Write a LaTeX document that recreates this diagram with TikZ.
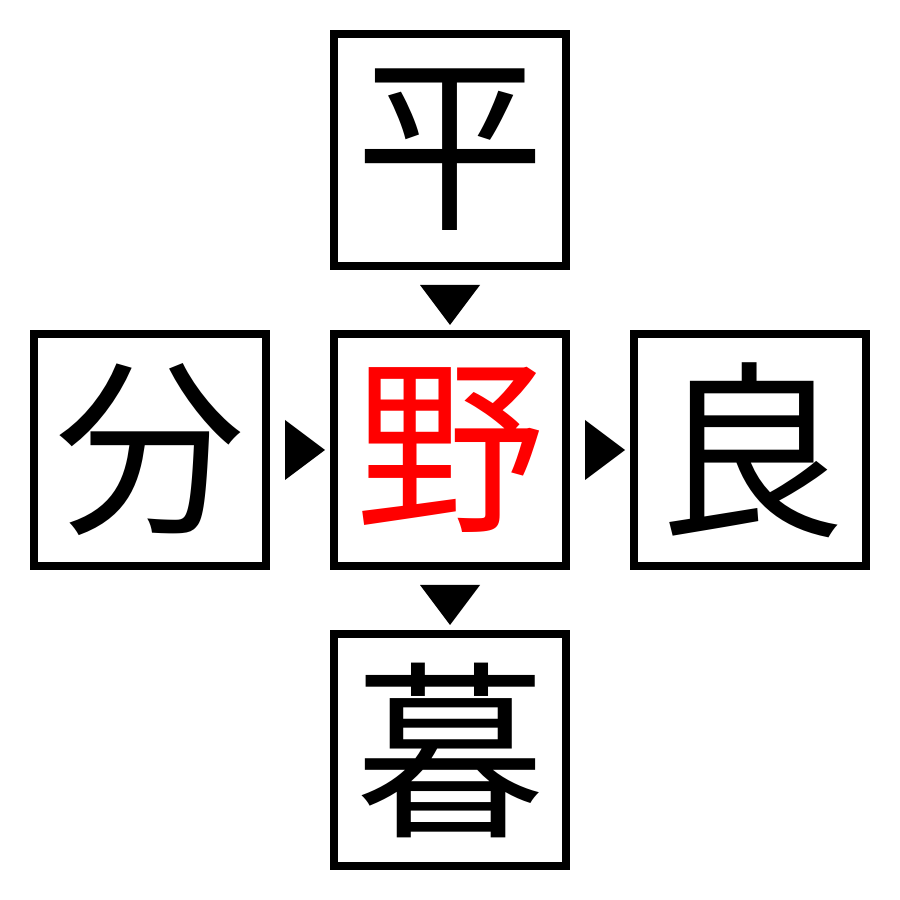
\documentclass[tikz,border=0pt]{standalone}
\usepackage{fontspec}
\newfontfamily\cjk{Noto Sans CJK JP}
\usetikzlibrary{shapes.geometric,positioning}

\begin{document}
\begin{tikzpicture}[
    kanji/.style={rectangle,draw,line width=0.08cm,minimum size=2.32cm,inner sep=0pt,font=\cjk\fontsize{54}{54}\selectfont},
    target/.style={kanji,text=red},
    pointer/.style={isosceles triangle,isosceles triangle stretches,fill=black,inner sep=0pt,minimum width=0.6cm,minimum height=0.4cm,anchor=center}
]
\fill[white] (0,0) rectangle (9,9);
\useasboundingbox (0,0) rectangle (9,9);

% Central character
\node[target] (no) at (4.5,4.5) {野};

% Surrounding characters
\node[kanji,above=0.6cm of no] (hei) {平};
\node[kanji,left=0.6cm of no] (bun) {分};
\node[kanji,right=0.6cm of no] (ryo) {良};
\node[kanji,below=0.6cm of no] (bo) {暮};

% Pointers between boxes
\path (hei) -- node[pointer,shape border rotate=-90] (p1) {} (no);
\path (bun) -- node[pointer] (p2) {} (no);
\path (no) -- node[pointer] (p3) {} (ryo);
\path (no) -- node[pointer,shape border rotate=-90] (p4) {} (bo);

\end{tikzpicture}
\end{document}
